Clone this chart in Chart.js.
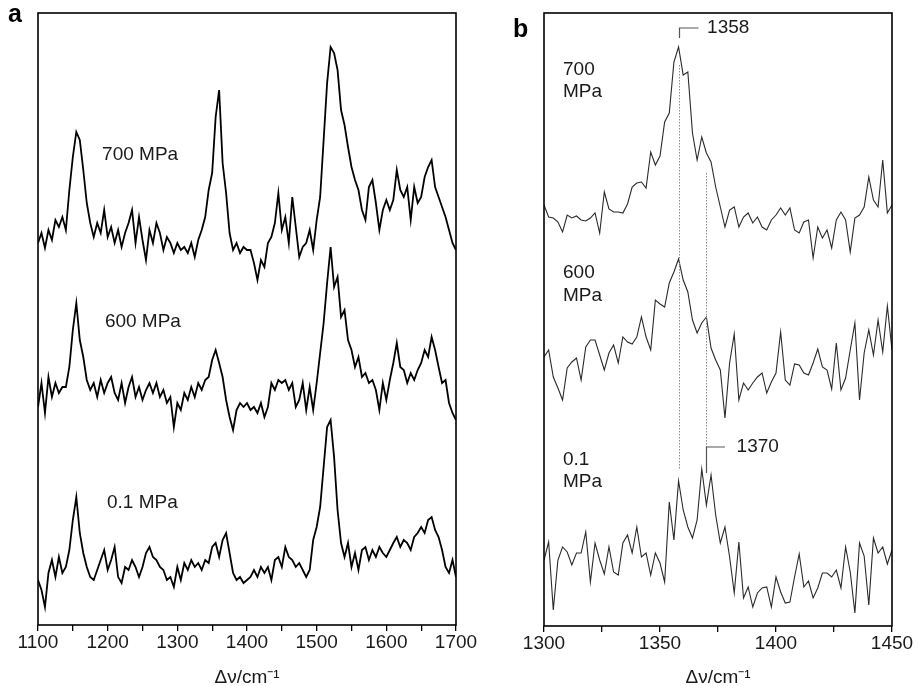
<!DOCTYPE html>
<html>
<head>
<meta charset="utf-8">
<script src="https://cdn.jsdelivr.net/npm/chart.js@4.4.1/dist/chart.umd.min.js"></script>
<style>
  html, body { margin: 0; padding: 0; background: #fff; }
  #wrap { position: relative; width: 919px; height: 686px; }
  .panel { position: absolute; top: 0; height: 686px; }
  #pa { left: 0; width: 500px; }
  #pb { left: 500px; width: 419px; }
</style>
</head>
<body>
<div id="wrap">
  <div class="panel" id="pa"><canvas id="chartA"></canvas></div>
  <div class="panel" id="pb"><canvas id="chartB"></canvas></div>
</div>
<script>
// ---- data: panel a (1100-1700 cm-1, offset traces, arb. units) ----
const wnA = [1100,1105,1110,1115,1120,1125,1130,1135,1140,1145,1150,1155,1160,1165,1170,1175,1180,1185,1190,1195,
  1200,1205,1210,1215,1220,1225,1230,1235,1240,1245,1250,1255,1260,1265,1270,1275,1280,1285,1290,1295,
  1300,1305,1310,1315,1320,1325,1330,1335,1340,1345,1350,1355,1360,1365,1370,1375,1380,1385,1390,1395,
  1400,1405,1410,1415,1420,1425,1430,1435,1440,1445,1450,1455,1460,1465,1470,1475,1480,1485,1490,1495,
  1500,1505,1510,1515,1520,1525,1530,1535,1540,1545,1550,1555,1560,1565,1570,1575,1580,1585,1590,1595,
  1600,1605,1610,1615,1620,1625,1630,1635,1640,1645,1650,1655,1660,1665,1670,1675,1680,1685,1690,1695,1700];
const a700 = [382,392,377,395,385,405,398,408,395,435,468,493,485,455,422,402,388,402,392,415,
  388,398,382,395,378,392,402,415,382,408,385,365,395,382,402,392,375,388,382,372,
  382,375,378,372,382,368,385,395,408,435,452,508,535,462,432,392,375,382,372,378,
  375,375,362,345,365,358,382,388,402,432,395,408,382,428,398,368,378,382,395,375,
  405,428,485,542,578,572,555,515,500,478,458,445,435,415,405,438,445,422,395,415,
  425,415,425,455,435,428,438,405,438,422,428,448,458,465,438,428,418,408,395,382,375];
const a600 = [218,242,212,248,228,242,232,238,238,258,295,322,285,268,245,235,242,228,245,232,
  242,248,232,225,242,222,238,248,228,238,225,235,242,232,242,228,235,222,228,198,
  222,215,232,225,238,228,242,235,245,248,265,275,262,248,225,208,195,215,222,218,
  222,215,218,212,222,208,218,242,235,245,242,245,235,242,218,225,242,215,238,215,
  242,272,302,342,378,338,348,308,315,285,275,258,268,248,252,242,245,235,215,242,
  225,245,262,282,258,255,242,252,245,255,262,275,268,288,275,258,242,245,222,212,205];
const a01 = [45,35,18,52,65,48,68,52,58,75,105,128,92,72,58,48,45,55,65,75,
  55,65,78,48,42,58,55,65,58,48,58,72,78,68,65,58,55,45,48,38,
  58,45,62,55,65,58,62,55,65,62,78,82,68,85,92,72,52,45,48,42,
  45,48,55,48,58,52,58,45,65,68,58,78,68,65,58,62,55,48,55,85,
  98,118,158,198,205,168,115,82,68,82,58,72,55,75,78,65,75,68,78,72,
  68,75,82,88,78,85,82,75,88,92,98,92,105,108,95,88,75,58,52,65,48];
const ticksA = [1100, 1200, 1300, 1400, 1500, 1600, 1700];

// ---- data: panel b (1300-1450 cm-1) ----
const wnB = [1300,1302,1304,1306,1308,1310,1312,1314,1316,1318,1320,1322,1324,1326,1328,1330,1332,1334,1336,1338,
  1340,1342,1344,1346,1348,1350,1352,1354,1356,1358,1360,1362,1364,1366,1368,1370,1372,1374,1376,1378,
  1380,1382,1384,1386,1388,1390,1392,1394,1396,1398,1400,1402,1404,1406,1408,1410,1412,1414,1416,1418,
  1420,1422,1424,1426,1428,1430,1432,1434,1436,1438,1440,1442,1444,1446,1448,1450];
const b700 = [421,409,408,404,394,411,408,410,406,405,408,413,393,434,417,414,414,413,422,439,
  443,444,438,474,461,470,504,513,564,579,551,554,493,466,489,473,464,439,419,399,
  416,419,399,409,413,403,409,399,396,406,411,418,411,418,396,393,404,406,368,399,
  388,396,378,406,414,406,374,408,411,419,449,426,419,466,413,421];
const b600 = [269,276,249,238,226,258,264,268,246,279,286,286,271,256,273,281,263,289,284,282,
  289,309,289,276,326,322,319,343,354,367,346,334,306,293,303,309,278,266,256,208,
  263,292,226,243,236,243,249,253,233,244,253,294,246,241,262,261,253,251,263,277,
  259,256,237,283,236,248,276,303,226,273,296,271,306,274,320,276];
const b01 = [66,84,16,66,79,74,61,73,73,94,44,83,66,52,79,54,51,83,91,73,
  99,69,73,51,73,63,44,124,86,145,116,99,88,106,157,121,151,111,83,99,
  69,33,84,28,39,19,33,38,39,19,49,34,23,24,49,72,39,45,28,38,
  53,53,49,56,38,79,54,13,83,70,21,88,73,79,62,76];
const ticksB = [1300, 1350, 1400, 1450];

const FONT = '"Liberation Sans", Arial, Helvetica, sans-serif';
const INK = '#1a1a1a';

function pts(xs, ys) {
  return xs.map(function (x, i) { return { x: x, y: ys[i] }; });
}

// frame, panel letter, text labels and peak markers
const panelDecor = {
  id: 'panelDecor',
  afterDraw(chart, args, o) {
    const ctx = chart.ctx, a = chart.chartArea;
    const sx = chart.scales.x, sy = chart.scales.y;
    ctx.save();
    // dotted guide lines
    (o.guides || []).forEach(function (g) {
      ctx.strokeStyle = '#8a8a8a'; ctx.lineWidth = 1; ctx.setLineDash([1.5, 1.5]);
      const px = Math.round(sx.getPixelForValue(g.x)) + 0.5;
      ctx.beginPath();
      ctx.moveTo(px, sy.getPixelForValue(g.y0));
      ctx.lineTo(px, sy.getPixelForValue(g.y1));
      ctx.stroke();
    });
    ctx.setLineDash([]);
    // bracket markers
    (o.marks || []).forEach(function (m) {
      ctx.strokeStyle = '#555'; ctx.lineWidth = 1.2;
      const px = Math.round(sx.getPixelForValue(m.x)) + 0.5;
      const pTop = sy.getPixelForValue(m.yTop), pBot = sy.getPixelForValue(m.yBot);
      ctx.beginPath();
      ctx.moveTo(px, pBot); ctx.lineTo(px, pTop);
      ctx.lineTo(sx.getPixelForValue(m.x2), pTop);
      ctx.stroke();
      ctx.fillStyle = INK; ctx.font = '19px ' + FONT; ctx.textBaseline = 'middle'; ctx.textAlign = 'left';
      ctx.fillText(m.text, sx.getPixelForValue(m.tx), pTop);
    });
    // trace labels
    ctx.fillStyle = INK; ctx.font = '19px ' + FONT; ctx.textBaseline = 'middle'; ctx.textAlign = 'left';
    (o.labels || []).forEach(function (l) {
      ctx.fillText(l.text, sx.getPixelForValue(l.x), sy.getPixelForValue(l.y));
    });
    // frame
    ctx.strokeStyle = '#000'; ctx.lineWidth = 1.6;
    ctx.strokeRect(a.left, a.top, a.right - a.left, a.bottom - a.top);
    // panel letter
    ctx.fillStyle = '#000'; ctx.font = 'bold 25px ' + FONT; ctx.textBaseline = 'alphabetic';
    ctx.fillText(o.letter.text, o.letter.x, o.letter.y);
    ctx.restore();
  }
};

function makePanel(canvasId, cfg) {
  const ds = cfg.series.map(function (s) {
    return {
      data: pts(cfg.xs, s), borderColor: cfg.lineColor, borderWidth: cfg.lineWidth,
      pointRadius: 0, tension: 0, fill: false
    };
  });
  return new Chart(document.getElementById(canvasId), {
    type: 'line',
    data: { datasets: ds },
    options: {
      responsive: true, maintainAspectRatio: false, animation: false,
      layout: { padding: cfg.padding },
      plugins: {
        legend: { display: false }, tooltip: { enabled: false },
        panelDecor: cfg.decor
      },
      scales: {
        x: {
          type: 'linear', min: cfg.xMin, max: cfg.xMax,
          ticks: {
            stepSize: cfg.minorStep, autoSkip: false, maxRotation: 0, padding: 0,
            color: INK, font: { family: FONT, size: 19 },
            callback: function (v) { return cfg.tickLabels.indexOf(v) >= 0 ? String(v) : ''; }
          },
          grid: { display: true, drawOnChartArea: false, drawTicks: true, tickLength: 6, color: '#000', lineWidth: 1.3 },
          border: { display: false },
          title: { display: true, text: 'Δν/cm⁻¹', color: INK, font: { family: FONT, size: 19 }, padding: { top: -3, bottom: -3 } },
          afterFit: function (s) { s.height = cfg.axisHeight; }
        },
        y: { display: false, min: 0, max: cfg.yMax }
      }
    },
    plugins: [panelDecor]
  });
}

makePanel('chartA', {
  xs: wnA, series: [a700, a600, a01], xMin: 1100, xMax: 1700, minorStep: 50, tickLabels: ticksA,
  yMax: 612, lineColor: '#000', lineWidth: 1.8,
  padding: { left: 38, right: 44, top: 13, bottom: 0 }, axisHeight: 61,
  decor: {
    letter: { text: 'a', x: 8, y: 22 },
    labels: [
      { text: '700 MPa', x: 1192, y: 470 },
      { text: '600 MPa', x: 1196, y: 303 },
      { text: '0.1 MPa', x: 1199, y: 122 }
    ]
  }
});

makePanel('chartB', {
  xs: wnB, series: [b700, b600, b01], xMin: 1300, xMax: 1450, minorStep: 25, tickLabels: ticksB,
  yMax: 613, lineColor: '#2a2a2a', lineWidth: 1.1,
  padding: { left: 44, right: 27, top: 13, bottom: 0 }, axisHeight: 60,
  decor: {
    letter: { text: 'b', x: 13, y: 37 },
    labels: [
      { text: '700', x: 1308.2, y: 556 }, { text: 'MPa', x: 1308.2, y: 534 },
      { text: '600', x: 1308.2, y: 353 }, { text: 'MPa', x: 1308.2, y: 330 },
      { text: '0.1', x: 1308.2, y: 166 }, { text: 'MPa', x: 1308.2, y: 144 }
    ],
    guides: [
      { x: 1358, y0: 561, y1: 156 },
      { x: 1370, y0: 453, y1: 179 }
    ],
    marks: [
      { x: 1358, yBot: 588, yTop: 598, x2: 1366.6, tx: 1370.3, text: '1358' },
      { x: 1370, yBot: 153, yTop: 179, x2: 1378, tx: 1383, text: '1370' }
    ]
  }
});
</script>
</body>
</html>
